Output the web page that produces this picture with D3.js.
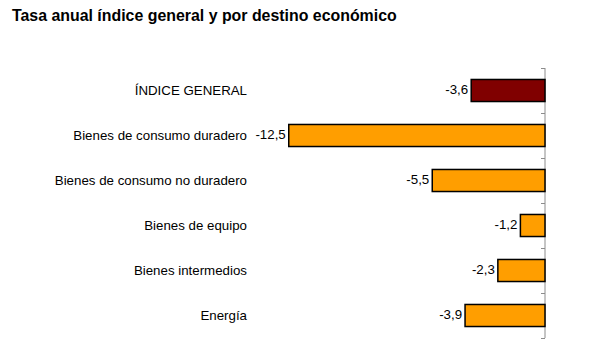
<!DOCTYPE html>
<html>
<head>
<meta charset="utf-8">
<script src="https://cdn.jsdelivr.net/npm/d3@7"></script>
<style>
  html, body { margin: 0; padding: 0; background: #fff; }
  svg { display: block; }
  text { font-family: "Liberation Sans", Arial, sans-serif; }
</style>
</head>
<body>
<svg id="chart" width="589" height="360"></svg>
<script>
const categories = ["ÍNDICE GENERAL", "Bienes de consumo duradero", "Bienes de consumo no duradero", "Bienes de equipo", "Bienes intermedios", "Energía"];
const values = [-3.6, -12.5, -5.5, -1.2, -2.3, -3.9];
const barColors = ["#800000", "#FF9E00", "#FF9E00", "#FF9E00", "#FF9E00", "#FF9E00"];
const title = "Tasa anual índice general y por destino económico";

const svg = d3.select("#chart");
const W = 589, H = 360;
svg.append("rect").attr("width", W).attr("height", H).attr("fill", "#fff");

svg.append("text")
  .attr("x", 12).attr("y", 21)
  .attr("font-size", 15.9).attr("font-weight", "bold")
  .attr("fill", "#000")
  .text(title);

const x = d3.scaleLinear().domain([-14, 0]).range([258, 545]);
const y = d3.scaleBand().domain(categories).range([68, 338]).paddingInner(0.51).paddingOuter(0.255);
const band = d3.scaleBand().domain(categories).range([68, 338]);

// axis line and ticks at category boundaries
const axisG = svg.append("g");
axisG.append("line")
  .attr("x1", x(0)).attr("x2", x(0))
  .attr("y1", 68).attr("y2", 338)
  .attr("stroke", "#8c8c8c").attr("stroke-width", 1);
const boundaries = categories.map(c => band(c)).concat([338]);
axisG.selectAll("line.tick").data(boundaries).enter().append("line")
  .attr("class", "tick")
  .attr("x1", x(0) - 4).attr("x2", x(0))
  .attr("y1", d => Math.round(d) + 0.5).attr("y2", d => Math.round(d) + 0.5)
  .attr("stroke", "#8c8c8c").attr("stroke-width", 1);

// bars
svg.selectAll("rect.bar").data(values).enter().append("rect")
  .attr("class", "bar")
  .attr("x", d => x(d))
  .attr("y", (d, i) => y(categories[i]))
  .attr("width", d => x(0) - x(d))
  .attr("height", y.bandwidth())
  .attr("fill", (d, i) => barColors[i])
  .attr("stroke", "#000").attr("stroke-width", 1.5);

// value labels
const fmt = v => String(v).replace(".", ",");
svg.selectAll("text.val").data(values).enter().append("text")
  .attr("class", "val")
  .attr("x", d => x(d) - 3)
  .attr("y", (d, i) => y(categories[i]) + y.bandwidth() / 2 - 1.5)
  .attr("dy", "0.35em")
  .attr("text-anchor", "end")
  .attr("font-size", 13.3)
  .attr("fill", "#000")
  .text(fmt);

// category labels
svg.selectAll("text.cat").data(categories).enter().append("text")
  .attr("class", "cat")
  .attr("x", 247)
  .attr("y", c => y(c) + y.bandwidth() / 2)
  .attr("dy", "0.35em")
  .attr("text-anchor", "end")
  .attr("font-size", 13.3)
  .attr("fill", "#000")
  .text(c => c);
</script>
</body>
</html>
